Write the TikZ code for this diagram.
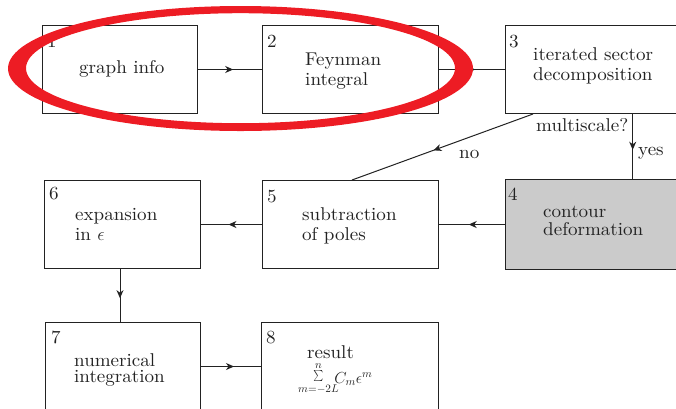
\RequirePackage{fix-cm}
\documentclass[tikz,border=0pt]{standalone}
\usepackage{graphicx}
\usepackage{fontspec}
\setmainfont{lmroman10-regular.otf}[FakeStretch=1.03]
\usetikzlibrary{arrows.meta,decorations.markings,calc}
\definecolor{ink}{HTML}{222222}
\definecolor{markred}{HTML}{ED1C24}
\definecolor{shade}{HTML}{CBCBCB}
\tikzset{
  box/.style={draw=ink, line width=1pt, minimum height=88pt, anchor=north west, inner sep=0pt},
  num/.style={anchor=base west, inner sep=0pt, text=ink, font=\fontsize{18.5}{19.5}\selectfont},
  txt/.style={anchor=base west, inner sep=0pt, align=left, text=ink, font=\fontsize{18.5}{19.5}\selectfont},
  lbl/.style={anchor=base west, inner sep=0pt, text=ink, font=\fontsize{18.5}{19.5}\selectfont},
  flow/.style={draw=ink, line width=1pt, postaction={decorate},
    decoration={markings, mark=at position 0.55 with {\arrow{Stealth[length=8pt,width=7pt,inset=2.5pt]}}}}
}
\begin{document}
\begin{tikzpicture}[x=1pt, y=-1pt]
  \useasboundingbox (0,0) rectangle (676,408);
  \clip (0,0) rectangle (676,408);

  % process boxes
  \node[box, minimum width=155pt] (b1) at (42,25) {};
  \node[box, minimum width=176pt] (b2) at (262,25) {};
  \node[box, minimum width=200pt] (b3) at (505,25) {};
  \node[box, minimum width=200pt, minimum height=90pt, fill=shade] (b4) at (505,179) {};
  \node[box, minimum width=176pt] (b5) at (262,180) {};
  \node[box, minimum width=156pt] (b6) at (44,180) {};
  \node[box, minimum width=155pt] (b7) at (45,322) {};
  \node[box, minimum width=177pt] (b8) at (261,322) {};

  % step numbers
  \node[num] (n1) at ($(b1.north west)+(5,22)$) {1};
  \node[num] (n2) at ($(b2.north west)+(5,22)$) {2};
  \node[num] (n3) at ($(b3.north west)+(4,22)$) {3};
  \node[num] (n4) at ($(b4.north west)+(3,21)$) {4};
  \node[num] (n5) at ($(b5.north west)+(5,22)$) {5};
  \node[num] (n6) at ($(b6.north west)+(5,19)$) {6};
  \node[num] (n7) at ($(b7.north west)+(6,21)$) {7};
  \node[num] (n8) at ($(b8.north west)+(5,21)$) {8};

  % box texts (anchored at the baseline of their last line)
  \node[txt] (t1) at (79,73) {graph info};
  \node[txt, font=\fontsize{18.5}{20}\selectfont] (t2) at (305,85) {Feynman\\integral};
  \node[txt] (t3) at (533,80) {iterated sector\\decomposition};
  \node[txt, font=\fontsize{18.5}{18}\selectfont] (t4) at (543,235) {contour\\deformation};
  \node[txt] (t5) at (302,240) {subtraction\\of poles};
  \node[txt, font=\fontsize{18.5}{20}\selectfont] (t6) at (75,240) {expansion\\in $\epsilon$};
  \node[txt, font=\fontsize{18.5}{16}\selectfont] (t7) at (74,382) {numerical\\integration};
  \node[txt] (t8a) at (307,358) {result};
  \node[txt, font=\fontsize{16}{17}\selectfont] (t8b) at (298,383)
    {$\mathop{\raisebox{2.5pt}{\resizebox*{10pt}{11pt}{$\sum$}}}\limits_{\scriptstyle m=-2L}^{\scriptstyle n}\kern-7pt C_m\epsilon^m$};

  % connectors
  \draw[flow] (b1.east) -- (b2.west);
  \draw[flow] (b2.east) -- (b3.west);
  \draw[flow] ($(b3.south west)+(127.7,0)$) -- ($(b4.north west)+(127.7,0)$);
  \draw[flow] ($(b3.south west)+(28,0)$) -- ($(b5.north west)+(90,0)$);
  \draw[flow] (b4.west) -- (b5.east);
  \draw[flow] (b5.west) -- (b6.east);
  \draw[flow] ($(b6.south west)+(76,0)$) coordinate (p6) -- (p6 |- b7.north);
  \draw[flow] (b7.east) -- (b8.west);

  % decision labels
  \node[lbl] (q) at (536,131) {multiscale?};
  \node[lbl] (yes) at (638,155) {yes};
  \node[lbl] (no) at (459,158) {no};

  % highlight ring around the first two steps
  \fill[markred, even odd rule]
    (240.5,68.5) ellipse [x radius=232.5, y radius=62.5]
    (240.5,68.2) ellipse [x radius=214.5, y radius=55];
\end{tikzpicture}
\end{document}
